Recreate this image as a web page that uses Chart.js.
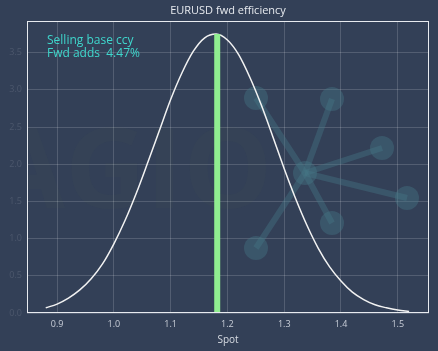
<!DOCTYPE html>
<html>
<head>
<meta charset="utf-8">
<script src="https://cdn.jsdelivr.net/npm/chart.js@4/dist/chart.umd.min.js"></script>
<style>
  html, body { margin: 0; padding: 0; background: #334057; }
  #wrap { width: 438px; height: 351px; }
</style>
</head>
<body>
<div id="wrap"><canvas id="chart-fwd"></canvas></div>
<script>
// spot grid and density
const SPOT = [0.88, 0.90, 0.92, 0.94, 0.96, 0.98, 1.00, 1.02, 1.04, 1.06, 1.08,
  1.10, 1.12, 1.14, 1.16, 1.18, 1.20, 1.22, 1.24, 1.26, 1.28, 1.30, 1.32,
  1.34, 1.36, 1.38, 1.40, 1.42, 1.44, 1.46, 1.48, 1.50, 1.52];
const DENSITY = [0.07, 0.12, 0.20, 0.31, 0.46, 0.66, 0.93, 1.25, 1.62, 2.03, 2.45,
  2.87, 3.23, 3.52, 3.70, 3.75, 3.67, 3.47, 3.16, 2.79, 2.37, 1.94, 1.54,
  1.18, 0.87, 0.62, 0.43, 0.28, 0.18, 0.11, 0.07, 0.04, 0.02];
const FWD_SPOT = 1.182;
const FWD_TOP = 3.75;
const X_TICKS = [0.9, 1.0, 1.1, 1.2, 1.3, 1.4, 1.5];
const Y_TICKS = [0.0, 0.5, 1.0, 1.5, 2.0, 2.5, 3.0, 3.5];
const TITLE = 'EURUSD fwd efficiency';
const NOTE = ['Selling base ccy', 'Fwd adds  4.47%'];

const FONT = "'Open Sans', 'DejaVu Sans', sans-serif";

const frame = {
  id: 'frame',
  beforeDatasetsDraw(chart) {
    const { ctx, chartArea: a } = chart;
    ctx.save();
    ctx.beginPath();
    ctx.rect(a.left, a.top, a.right - a.left, a.bottom - a.top);
    ctx.clip();
    // faint watermark text
    ctx.fillStyle = 'rgba(90, 120, 80, 0.05)';
    ctx.font = "bold 112px " + FONT;
    ctx.textAlign = 'center';
    ctx.textBaseline = 'middle';
    ctx.fillText('AGIO', 130, 176);
    // network logo
    ctx.strokeStyle = 'rgba(70, 120, 135, 0.4)';
    ctx.fillStyle = 'rgba(70, 120, 135, 0.4)';
    ctx.lineWidth = 6;
    const hub = [305, 173];
    const nodes = [[256, 98], [332, 99], [382, 148], [407, 198], [332, 223], [256, 248]];
    nodes.forEach(n => {
      ctx.beginPath();
      ctx.moveTo(hub[0], hub[1]);
      ctx.lineTo(n[0], n[1]);
      ctx.stroke();
    });
    [hub].concat(nodes).forEach(n => {
      ctx.beginPath();
      ctx.arc(n[0], n[1], 12, 0, Math.PI * 2);
      ctx.fill();
    });
    ctx.restore();
  },
  afterDraw(chart) {
    const { ctx, chartArea: a } = chart;
    ctx.save();
    ctx.strokeStyle = '#e8ebf0';
    ctx.lineWidth = 1;
    ctx.strokeRect(a.left + 0.5, a.top + 0.5, a.right - a.left - 1, a.bottom - a.top - 1);
    ctx.textBaseline = 'middle';
    ctx.textAlign = 'center';
    ctx.fillStyle = '#e6e9ee';
    ctx.font = "11px " + FONT;
    ctx.fillText(TITLE, (a.left + a.right) / 2, 11);
    ctx.fillStyle = '#3fd6cc';
    ctx.font = "12px " + FONT;
    ctx.textAlign = 'left';
    NOTE.forEach((t, i) => ctx.fillText(t, a.left + 20, a.top + 20 + i * 13));
    ctx.restore();
  }
};

new Chart(document.getElementById('chart-fwd'), {
  type: 'scatter',
  data: {
    datasets: [
      {
        label: 'fwd',
        data: [{ x: FWD_SPOT, y: 0 }, { x: FWD_SPOT, y: FWD_TOP }],
        showLine: true,
        borderColor: '#90ee90',
        borderWidth: 6,
        pointRadius: 0,
        borderCapStyle: 'butt'
      },
      {
        label: 'density',
        data: SPOT.map((x, i) => ({ x, y: DENSITY[i] })),
        showLine: true,
        borderColor: '#f2f2f2',
        borderWidth: 1.5,
        pointRadius: 0,
        tension: 0.4,
        cubicInterpolationMode: 'monotone'
      }
    ]
  },
  options: {
    responsive: true,
    maintainAspectRatio: false,
    animation: false,
    layout: { padding: { left: 0, right: 9, top: 21, bottom: 0 } },
    plugins: {
      legend: { display: false },
      tooltip: { enabled: false },
      title: { display: false }
    },
    scales: {
      x: {
        type: 'linear',
        min: 0.847,
        max: 1.555,
        afterBuildTicks: (s) => { s.ticks = X_TICKS.map(v => ({ value: v })); },
        afterFit: (s) => { s.height = 38; },
        ticks: {
          color: '#c9ced8',
          font: { family: FONT, size: 9 },
          padding: 6,
          callback: (v) => Number(v).toFixed(1)
        },
        grid: { color: 'rgba(255,255,255,0.16)', drawTicks: false },
        border: { display: false },
        title: {
          display: true,
          text: 'Spot',
          color: '#d8dce3',
          font: { family: FONT, size: 10 },
          padding: { top: 2, bottom: 5 }
        }
      },
      y: {
        type: 'linear',
        min: 0,
        max: 3.926,
        afterBuildTicks: (s) => { s.ticks = Y_TICKS.map(v => ({ value: v })); },
        afterFit: (s) => { s.width = 27; },
        ticks: {
          color: '#4c576c',
          font: { family: FONT, size: 9 },
          padding: 5,
          callback: (v) => Number(v).toFixed(1)
        },
        grid: { color: 'rgba(255,255,255,0.16)', drawTicks: false },
        border: { display: false }
      }
    }
  },
  plugins: [frame]
});
</script>
</body>
</html>
